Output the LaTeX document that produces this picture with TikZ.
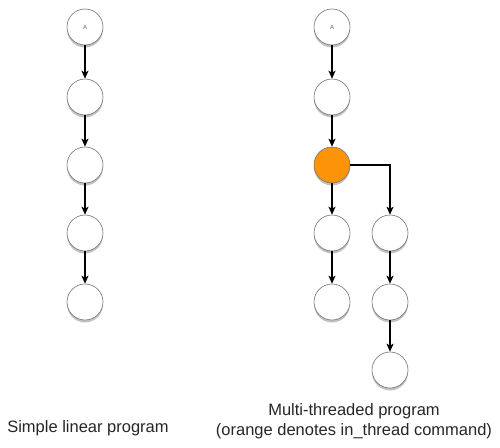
\documentclass[tikz,border=0pt]{standalone}
\usepackage{fontspec}
\setmainfont{Liberation Sans}
\usetikzlibrary{arrows.meta,shadows}
\definecolor{orangefill}{RGB}{253,148,8}
\begin{document}
\begin{tikzpicture}[x=1pt,y=-1pt,
  stnode/.style={circle,draw=black!55,line width=0.6pt,fill=white,minimum size=36pt,inner sep=0pt,
    drop shadow={shadow xshift=0pt,shadow yshift=-2.5pt,opacity=0.4,fill=black!60}},
  orangenode/.style={stnode,fill=orangefill},
  conn/.style={-{Stealth[length=8pt,width=7pt,inset=2pt]},line width=1.1pt,black},
  lbl/.style={font=\fontsize{16.5}{20}\selectfont,text=black!85,align=center}]
\useasboundingbox (0,0) rectangle (500,447);
% left column
\node[stnode] (l1) at (85,27) {\fontsize{6}{6}\selectfont\color{black!60}A};
\node[stnode] (l2) at (85,97) {};
\node[stnode] (l3) at (85,165) {};
\node[stnode] (l4) at (85,233) {};
\node[stnode] (l5) at (85,302) {};
\draw[conn] (l1) -- (l2);
\draw[conn] (l2) -- (l3);
\draw[conn] (l3) -- (l4);
\draw[conn] (l4) -- (l5);
% right
\node[stnode] (r1) at (332,27) {\fontsize{6}{6}\selectfont\color{black!60}A};
\node[stnode] (r2) at (332,97) {};
\node[orangenode] (r3) at (332,165) {};
\node[stnode] (r4) at (332,233) {};
\node[stnode] (r5) at (332,302) {};
\node[stnode] (b1) at (390,233) {};
\node[stnode] (b2) at (390,302) {};
\node[stnode] (b3) at (390,370) {};
\draw[conn] (r1) -- (r2);
\draw[conn] (r2) -- (r3);
\draw[conn] (r3) -- (r4);
\draw[conn] (r4) -- (r5);
\draw[conn] (r3.east) -| (b1.north);
\draw[conn] (b1) -- (b2);
\draw[conn] (b2) -- (b3);
\node[lbl] (t1) at (88,428) {Simple linear program};
\node[lbl] (t2) at (354,421) {Multi-threaded program\\(orange denotes in\_thread command)};
\end{tikzpicture}
\end{document}
